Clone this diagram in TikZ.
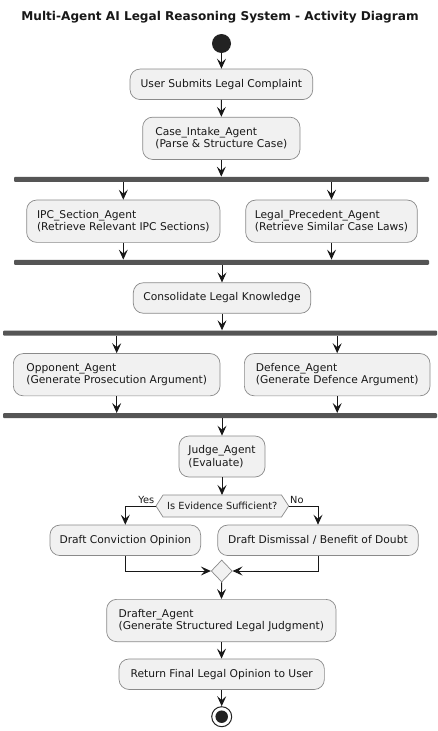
\documentclass[tikz,border=0pt]{standalone}
\usepackage{fontspec}
\setmainfont{DejaVu Sans}
\usetikzlibrary{arrows.meta,shapes.geometric,calc}
\definecolor{boxfill}{HTML}{F1F1F1}
\definecolor{boxline}{HTML}{8A8A8A}
\definecolor{lineclr}{HTML}{181818}
\definecolor{barclr}{HTML}{555555}
\definecolor{dotclr}{HTML}{222222}
\begin{document}
\begin{tikzpicture}[x=1pt,y=-1pt,
  act/.style={rectangle,rounded corners=10pt,fill=boxfill,draw=boxline,line width=0.7pt,
    inner xsep=8pt,inner ysep=0pt,minimum height=30.5pt,
    font=\fontsize{10.7}{12.6}\selectfont,text=lineclr},
  acttwo/.style={act,align=left,minimum height=42.3pt},
  forkbar/.style={rectangle,fill=barclr,draw=none,minimum height=5pt,inner sep=0pt,rounded corners=1pt},
  flow/.style={draw=lineclr,line width=0.9pt,-{Stealth[length=10pt,width=9pt,inset=4pt]}},
  lbl/.style={font=\fontsize{9.8}{11}\selectfont,text=lineclr,inner sep=0pt},
  decshape/.style={fill=boxfill,draw=boxline,line width=0.7pt}
]
\useasboundingbox[fill=white] (0,0) rectangle (438,731);

\node[font=\bfseries\fontsize{12.1}{15}\selectfont,text=lineclr] (title) at (220,17.5)
  {Multi-Agent AI Legal Reasoning System - Activity Diagram};

\node[circle,fill=dotclr,minimum size=19pt,inner sep=0pt] (start) at (221.5,43.5) {};

\node[act,minimum width=182.7pt] (submit) at (221.4,84.3) {User Submits Legal Complaint};
\node[acttwo,minimum width=157.3pt] (intake) at (221.3,138.3) {Case\_Intake\_Agent\\(Parse \& Structure Case)};

\node[forkbar,minimum width=415pt] (f1) at (221.5,179.3) {};

\node[acttwo,minimum width=193.3pt] (ipc) at (123.3,221.2) {IPC\_Section\_Agent\\(Retrieve Relevant IPC Sections)};
\node[acttwo,minimum width=171.6pt] (prec) at (331.5,221.2) {Legal\_Precedent\_Agent\\(Retrieve Similar Case Laws)};

\node[forkbar,minimum width=415pt] (f2) at (221.5,262.3) {};

\node[act,minimum width=177.4pt] (cons) at (222,298) {Consolidate Legal Knowledge};

\node[forkbar,minimum width=434pt] (f3) at (220,333) {};

\node[acttwo,minimum width=206.7pt] (opp) at (116.7,374.7) {Opponent\_Agent\\(Generate Prosecution Argument)};
\node[acttwo,minimum width=185.7pt] (def) at (337.2,374.7) {Defence\_Agent\\(Generate Defence Argument)};

\node[forkbar,minimum width=434pt] (f4) at (220,415.7) {};

\node[acttwo,minimum width=86pt,minimum height=41pt] (judge) at (222,456.5) {Judge\_Agent\\(Evaluate)};

% decision hexagon
\draw[decshape] (156,506) -- (163,495) -- (281.5,495) -- (288.7,506) -- (281.5,517) -- (163,517) -- cycle;
\node[lbl] (dec) at (222.3,506) {Is Evidence Sufficient?};
\coordinate (decN) at (222.3,495);
\coordinate (decL) at (156,506);
\coordinate (decR) at (288.7,506);
\node[lbl,anchor=base east] (yes) at (154.5,503.5) {Yes};
\node[lbl,anchor=base west] (no) at (290,503.5) {No};

\node[act,minimum width=150.7pt] (conv) at (125.3,540.3) {Draft Conviction Opinion};
\node[act,minimum width=200.6pt] (dism) at (318,540.3) {Draft Dismissal / Benefit of Doubt};

\node[diamond,aspect=1,fill=boxfill,draw=boxline,line width=0.7pt,minimum width=21pt,minimum height=22pt,inner sep=0pt] (merge) at (221.7,571) {};

\node[acttwo,minimum width=229.3pt] (drafter) at (221.3,620.5) {Drafter\_Agent\\(Generate Structured Legal Judgment)};
\node[act,minimum width=205.3pt] (ret) at (221.7,674.2) {Return Final Legal Opinion to User};

\node[circle,draw=dotclr,line width=1pt,fill=white,minimum size=20pt,inner sep=0pt] (stop) at (221.7,716.7) {};
\node[circle,fill=dotclr,minimum size=12.5pt,inner sep=0pt] (stopdot) at (stop) {};

% connectors
\draw[flow] (start) -- (submit);
\draw[flow] (submit) -- (intake);
\draw[flow] (intake.south) -- (intake.south |- f1.north);
\draw[flow] (ipc.north |- f1.south) -- (ipc.north);
\draw[flow] (prec.north |- f1.south) -- (prec.north);
\draw[flow] (ipc.south) -- (ipc.south |- f2.north);
\draw[flow] (prec.south) -- (prec.south |- f2.north);
\draw[flow] (cons.north |- f2.south) -- (cons.north);
\draw[flow] (cons.south) -- (cons.south |- f3.north);
\draw[flow] (opp.north |- f3.south) -- (opp.north);
\draw[flow] (def.north |- f3.south) -- (def.north);
\draw[flow] (opp.south) -- (opp.south |- f4.north);
\draw[flow] (def.south) -- (def.south |- f4.north);
\draw[flow] (judge.north |- f4.south) -- (judge.north);
\draw[flow] (judge.south) -- (judge.south |- decN);
\draw[flow] (decL) -| (conv.north);
\draw[flow] (decR) -| (dism.north);
\draw[flow] (conv.south) |- (merge.west);
\draw[flow] (dism.south) |- (merge.east);
\draw[flow] (merge) -- (drafter);
\draw[flow] (drafter) -- (ret);
\draw[flow] (ret) -- (stop);
\end{tikzpicture}
\end{document}
